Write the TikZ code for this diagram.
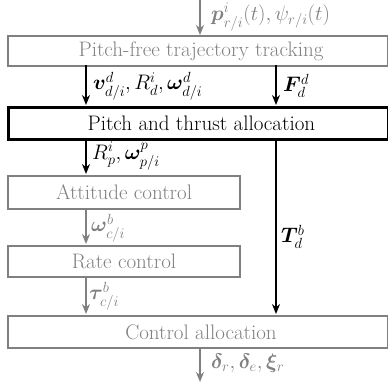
\RequirePackage{fix-cm}
\documentclass[tikz,border=0pt]{standalone}
\usepackage{amsmath,bm}
\usetikzlibrary{arrows.meta}
\begin{document}
\begin{tikzpicture}[x=1pt,y=-1pt,
  font=\fontsize{21}{25}\selectfont,
  gbox/.style={draw=gray, line width=2pt, text=gray, inner sep=0pt, anchor=north west},
  kbox/.style={draw=black, line width=2.8pt, text=black, inner sep=0pt, anchor=north west},
  garr/.style={draw=gray, line width=2pt, -{Stealth[length=10pt,width=8pt]}},
  karr/.style={draw=black, line width=2pt, -{Stealth[length=10pt,width=8pt]}},
  glab/.style={text=gray, anchor=west, inner sep=0pt},
  klab/.style={text=black, anchor=west, inner sep=0pt}]
\useasboundingbox (0,0) rectangle (388,388);
\node[gbox, minimum width=380pt, minimum height=30pt] (ptt) at (7,35) {\hspace*{6pt}Pitch-free trajectory tracking};
\node[kbox, minimum width=380pt, minimum height=32pt] (pta) at (7,106) {\hspace*{6pt}Pitch and thrust allocation};
\node[gbox, minimum width=232pt, minimum height=33pt] (att) at (7,175) {Attitude control};
\node[gbox, minimum width=232pt, minimum height=31pt] (rate) at (7,245) {Rate control};
\node[gbox, minimum width=380pt, minimum height=32pt] (ca) at (7,315) {\hspace*{6pt}Control allocation};
\coordinate (in) at (200,0);
\coordinate (out) at (200,382);
\draw[garr] (in) -- (in|-ptt.north);
\node[glab] (lin) at (211,17) {$\bm{p}^i_{r/i}(t),\psi_{r/i}(t)$};
\draw[karr] (86,65) -- (86,105);
\node[klab] (lv) at (93,86) {$\bm{v}^d_{d/i},R^i_d,\bm{\omega}^d_{d/i}$};
\draw[karr] (276,65) -- (276,105);
\node[klab] (lF) at (283,86) {$\bm{F}^d_d$};
\draw[karr] (86,138) -- (86,174);
\node[klab] (lR) at (92,156) {$R^i_p,\bm{\omega}^p_{p/i}$};
\draw[garr] (86,208) -- (86,244);
\node[glab] (lw) at (91,228) {$\bm{\omega}^b_{c/i}$};
\draw[garr] (86,276) -- (86,314);
\node[glab] (lt) at (89,296) {$\bm{\tau}^b_{c/i}$};
\draw[karr] (276,138) -- (276,314);
\node[klab] (lT) at (281,237) {$\bm{T}^b_d$};
\draw[garr] (ca.south -| in) -- (out);
\node[glab] (lout) at (211,363) {$\bm{\delta}_r,\bm{\delta}_e,\bm{\xi}_r$};
\end{tikzpicture}
\end{document}
